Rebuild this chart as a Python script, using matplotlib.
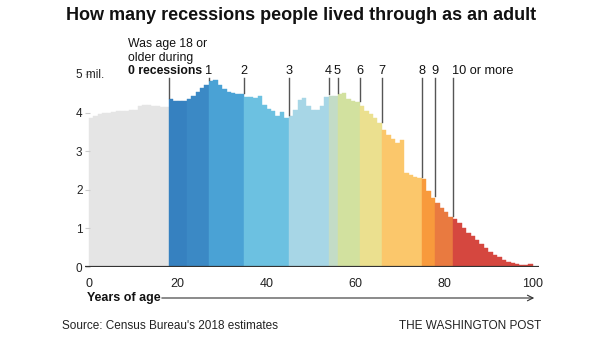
import matplotlib
matplotlib.use("Agg")
import matplotlib.pyplot as plt
from matplotlib import font_manager

plt.rcParams["font.family"] = ["Liberation Sans", "DejaVu Sans"]

# population by single year of age, millions (Census 2018 estimates)
ages = list(range(100))
population = [
    3.85, 3.90, 3.96, 3.99, 4.00, 4.01, 4.03, 4.05, 4.05, 4.07,
    4.08, 4.17, 4.20, 4.19, 4.16, 4.16, 4.15, 4.15, 4.35, 4.29,
    4.29, 4.31, 4.34, 4.44, 4.54, 4.63, 4.72, 4.82, 4.84, 4.72,
    4.60, 4.53, 4.50, 4.49, 4.48, 4.41, 4.41, 4.39, 4.42, 4.20,
    4.10, 4.04, 3.92, 4.01, 3.87, 3.90, 4.07, 4.33, 4.37, 4.17,
    4.07, 4.07, 4.16, 4.40, 4.44, 4.44, 4.47, 4.50, 4.35, 4.31,
    4.28, 4.16, 4.05, 3.96, 3.85, 3.72, 3.55, 3.42, 3.32, 3.22,
    3.30, 2.43, 2.38, 2.33, 2.30, 2.28, 1.98, 1.80, 1.67, 1.54,
    1.43, 1.30, 1.24, 1.14, 1.01, 0.88, 0.80, 0.70, 0.60, 0.49,
    0.40, 0.31, 0.25, 0.18, 0.14, 0.10, 0.07, 0.05, 0.04, 0.07,
]

# first age of each recession group
group_starts = [18, 27, 35, 45, 54, 56, 61, 66, 75, 78, 82]
group_labels = ["0 recessions", "1", "2", "3", "4", "5", "6", "7", "8", "9", "10 or more"]

x_ticks = [0, 20, 40, 60, 80, 100]
y_ticks = [0, 1, 2, 3, 4, 5]
y_ticklabels = ["0", "1", "2", "3", "4", "5 mil."]

group_colors = ["#3b89c5", "#4aa2d5", "#6cc1e1", "#a7d6e6", "#c3dcc6", "#d2e19f",
                "#ebe08f", "#fbc76b", "#f89a3c", "#e97a40", "#d5473f"]
under_color = "#e5e5e5"

# condensed font for the headline if available
names = {f.name for f in font_manager.fontManager.ttflist}
if "Liberation Sans Narrow" in names:
    title_font, title_size = "Liberation Sans Narrow", 15
else:
    title_font, title_size = "Liberation Sans", 13


def bar_color(age):
    if age < group_starts[0]:
        return under_color
    if age < 22:
        return "#3681c0"
    idx = 0
    for i, s in enumerate(group_starts):
        if age >= s:
            idx = i
    return group_colors[idx]


W, H = 605, 341
fig = plt.figure(figsize=(W / 100, H / 100), dpi=100)
ax = fig.add_axes([84.6 / W, (H - 267) / H, (539.4 - 84.6) / W, (267 - 74) / H])

colors = [bar_color(a) for a in ages]
ax.bar(ages, population, width=1.0, align="edge", color=colors, edgecolor=colors, linewidth=0.3)
ax.axhline(0, color="#333333", lw=1.6, zorder=5)

ax.set_xlim(-1, 101.5)
ax.set_ylim(0, 5)
for s in ax.spines.values():
    s.set_visible(False)

ax.set_xticks(x_ticks)
ax.set_xticklabels([str(t) for t in x_ticks])
ax.tick_params(axis="x", length=0, pad=8, labelsize=9, colors="#222222")
ax.set_yticks(y_ticks)
ax.set_yticklabels(y_ticklabels)
ax.tick_params(axis="y", direction="in", length=3.6, width=0.8, color="#cccccc",
               pad=6.2, labelsize=8.5, labelcolor="#222222")
for lbl in ax.get_yticklabels():
    lbl.set_horizontalalignment("left")

# recession group markers
line_top = 4.9
label_y = 4.93
for start, lab in zip(group_starts, group_labels):
    bar_top = max(population[start - 1], population[start])
    ax.plot([start, start], [bar_top + 0.03, line_top], color="#555555", lw=1.0,
            clip_on=False, zorder=6)
    if start == group_starts[0]:
        ax.text(8.8, label_y, lab, ha="left", va="bottom", fontsize=8.8,
                fontweight="bold", color="#111111", clip_on=False)
        ax.text(8.8, label_y + 0.34, "older during", ha="left", va="bottom",
                fontsize=8.8, color="#111111", clip_on=False)
        ax.text(8.8, label_y + 0.68, "Was age 18 or", ha="left", va="bottom",
                fontsize=8.8, color="#111111", clip_on=False)
    elif lab == group_labels[-1]:
        ax.text(start - 0.2, label_y, lab, ha="left", va="bottom", fontsize=9.2,
                color="#111111", clip_on=False)
    else:
        ax.text(start, label_y, lab, ha="center", va="bottom", fontsize=9.2,
                color="#111111", clip_on=False)

fig.text(301 / W, 1 - 15 / H, "How many recessions people lived through as an adult",
         ha="center", va="center", fontsize=title_size, fontweight="bold",
         family=[title_font, "DejaVu Sans"], color="#111111")

# x-axis title with arrow
fig.text(87 / W, 1 - 298 / H, "Years of age", ha="left", va="center",
         fontsize=9, fontweight="bold", color="#111111")
ax.annotate("", xy=(537 / W, 1 - 298 / H), xytext=(159 / W, 1 - 298 / H),
            xycoords="figure fraction", textcoords="figure fraction",
            arrowprops=dict(arrowstyle="->", color="#333333", lw=0.8))

fig.text(62 / W, 1 - 326 / H, "Source: Census Bureau's 2018 estimates", ha="left",
         va="center", fontsize=8.5, color="#222222")
fig.text(541 / W, 1 - 326 / H, "THE WASHINGTON POST", ha="right", va="center",
         fontsize=8.5, color="#222222")

fig.savefig("out.png", dpi=100)
